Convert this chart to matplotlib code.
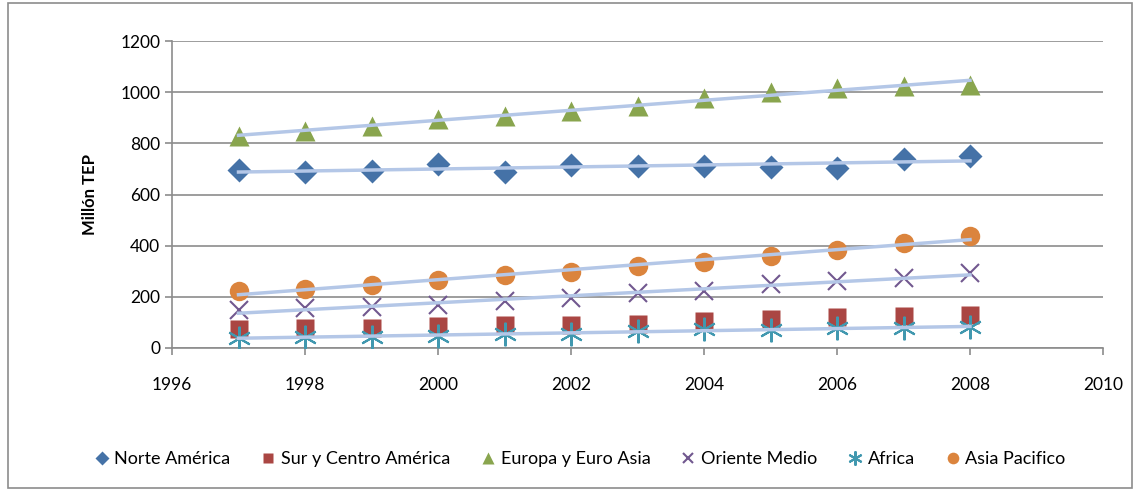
import numpy as np
from matplotlib import pyplot as plt

plt.rcParams['font.family'] = ['Lato', 'DejaVu Sans']

years = [1997, 1998, 1999, 2000, 2001, 2002, 2003, 2004, 2005, 2006, 2007, 2008]

#consumo por region (millon TEP)
norte = [696, 687, 691, 720, 688, 715, 710, 711, 706, 702, 739, 750]
sur = [73, 79, 79, 86, 89, 89, 94, 104, 113, 122, 125, 129]
europa = [827, 849, 869, 895, 908, 925, 947, 977, 999, 1018, 1024, 1029]
oriente = [149, 156, 161, 168, 185, 195, 214, 224, 250, 263, 272, 294]
africa = [40, 44, 44, 47, 55, 55, 68, 73, 70, 77, 79, 83]
asia = [224, 229, 245, 265, 284, 297, 321, 335, 361, 384, 410, 437]

# nombre, datos, color, marcador, tamano, con tendencia
series = [
    ('Norte América', norte, '#4572a7', 'D', 12, True),
    ('Sur y Centro América', sur, '#aa4643', 's', 13, False),
    ('Europa y Euro Asia', europa, '#89a54e', '^', 15, True),
    ('Oriente Medio', oriente, '#71588f', 'x', 13, True),
    ('Africa', africa, '#4198af', (6, 2, 0), 17, True),
    ('Asia Pacifico', asia, '#db843d', 'o', 14, True),
]

fig = plt.figure(figsize=(11.39, 4.91), dpi=100)
ax = fig.add_axes([172/1139, 1 - 348/491, (1103-172)/1139, (348-41)/491])

x = np.array(years)
for name, vals, col, mk, ms, tr in series:
    if mk in ('x', (6, 2, 0)):
        ax.plot(x, vals, linestyle='none', marker=mk, markersize=ms, color=col,
                markeredgewidth=1.5, label=name, zorder=3)
    else:
        ax.plot(x, vals, linestyle='none', marker=mk, markersize=ms, color=col,
                markeredgecolor='none', label=name, zorder=3)

# lineas de tendencia
for name, vals, col, mk, ms, tr in series:
    if not tr:
        continue
    m, b = np.polyfit(x, vals, 1)
    ax.plot([x[0], x[-1]], [m*x[0]+b, m*x[-1]+b], color='#b4c7e7', lw=2.5, zorder=4)

ax.set_xlim(1996, 2010)
ax.set_ylim(0, 1200)
ax.set_xticks(range(1996, 2011, 2))
ax.set_yticks(range(0, 1201, 200))
ax.grid(axis='y', color='#8c8c8c', lw=1.2)
ax.set_axisbelow(True)
for s in ['top', 'right']:
    ax.spines[s].set_visible(False)
for s in ['left', 'bottom']:
    ax.spines[s].set_color('#8c8c8c')
    ax.spines[s].set_linewidth(1.2)
ax.tick_params(axis='both', labelsize=12.5, color='#8c8c8c', length=5, width=1.2)
ax.tick_params(axis='x', pad=16)
ax.set_ylabel('Millón TEP', fontsize=12, fontweight='bold', labelpad=16)

handles, labels = ax.get_legend_handles_labels()
leg = fig.legend(handles, labels, loc='center', bbox_to_anchor=(580/1139, 1 - 459/491),
                 ncol=6, frameon=False, fontsize=13, markerscale=0.6,
                 handlelength=0.8, handletextpad=0.3, columnspacing=1.7)

# borde del grafico
fig.patches.append(plt.Rectangle((8/1139, 3/491), 1124/1139, 485/491, transform=fig.transFigure,
                                 fill=False, edgecolor='#8c8c8c', lw=1.2))

plt.savefig('out.png', dpi=100)
